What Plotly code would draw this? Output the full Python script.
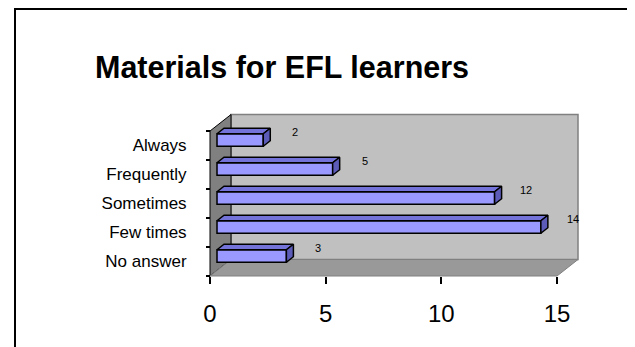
import plotly.graph_objects as go

# ---- data ----
categories = ["No answer", "Few times", "Sometimes", "Frequently", "Always"]
values = [3, 14, 12, 5, 2]
x_ticks = [0, 5, 10, 15]
title_text = "Materials for EFL learners"

# ---- geometry (pixel layout of the figure) ----
W, H = 635, 347
OFF = 8                                   # page body margin compensation
L, R, T, B = 195 - OFF, 600 - OFF, 100 - OFF, 300 - OFF   # plot area in pixels
X0PX, X15PX = 210 - OFF, 557 - OFF        # x=0 and x=15 on screen
UX = (X15PX - X0PX) / 15.0               # px per unit on x
UY = 29.0                                # px per category band
YBOT_PX = 276 - OFF                      # y = -0.5 on screen

xmin = (L - X0PX) / UX
xmax = (R - X0PX) / UX
ymin = -0.5 + (YBOT_PX - B) / UY
ymax = -0.5 + (YBOT_PX - T) / UY

# 3D depth vector (in data units)
DX, DY = 21 / UX, 16.5 / UY
dx, dy = DX / 3, DY / 3                  # bar front-face offset / bar depth
bar_h = 12.5 / UY

def px_x(p):
    return (p - L) / (R - L)

def px_y(p):
    return (B - p) / (B - T)

n = len(categories)
ylo, yhi = -0.5, n - 0.5
xhi = x_ticks[-1]

shapes = [
    # back wall
    dict(type="rect", xref="x", yref="y", x0=DX, x1=xhi + DX, y0=ylo + DY, y1=yhi + DY,
         fillcolor="#C0C0C0", line=dict(color="#808080", width=1.5), layer="below"),
    # side wall
    dict(type="path", xref="x", yref="y",
         path=f"M0,{ylo} L0,{yhi} L{DX},{yhi + DY} L{DX},{ylo + DY} Z",
         fillcolor="#808080", line=dict(color="#000000", width=1), layer="below"),
    # floor
    dict(type="path", xref="x", yref="y",
         path=f"M0,{ylo} L{xhi},{ylo} L{xhi + DX},{ylo + DY} L{DX},{ylo + DY} Z",
         fillcolor="#999999", line=dict(color="#808080", width=1), layer="below"),
    # outer frame
    dict(type="rect", xref="paper", yref="paper",
         x0=px_x(15 - OFF), x1=px_x(W + 10), y0=px_y(9 - OFF), y1=px_y(H + 10),
         line=dict(color="#000000", width=2), fillcolor="rgba(0,0,0,0)"),
]

fig = go.Figure()

ys = list(range(n))
# front faces
fig.add_trace(go.Bar(
    orientation="h", y=[i + dy for i in ys], x=values, base=[dx] * n, width=bar_h,
    marker=dict(color="#9999FF", line=dict(color="#000000", width=1.5)),
    hoverinfo="skip", showlegend=False))

# top and side faces
for i, v in zip(ys, values):
    yc = i + dy
    top, bot = yc + bar_h / 2, yc - bar_h / 2
    x1 = dx + v
    fig.add_trace(go.Scatter(
        x=[dx, x1, x1 + dx, 2 * dx, dx],
        y=[top, top, top + dy, top + dy, top],
        mode="lines", fill="toself", fillcolor="#7373D9",
        line=dict(color="#000000", width=1.5), hoverinfo="skip", showlegend=False))
    fig.add_trace(go.Scatter(
        x=[x1, x1, x1 + dx, x1 + dx, x1],
        y=[bot, top, top + dy, bot + dy, bot],
        mode="lines", fill="toself", fillcolor="#5C5CB8",
        line=dict(color="#000000", width=1.5), hoverinfo="skip", showlegend=False))

annotations = [
    dict(x=v + 1.68, y=i + 0.48, xref="x", yref="y", text=str(v), showarrow=False,
         font=dict(family="Arial, Liberation Sans", size=11, color="#000000"))
    for i, v in zip(ys, values)
]

fig.update_layout(
    width=W, height=H,
    margin=dict(l=L, r=W - R, t=T, b=H - B, pad=0),
    paper_bgcolor="#FFFFFF", plot_bgcolor="#FFFFFF",
    font=dict(family="Arial, Liberation Sans", color="#000000"),
    title=dict(text=title_text, x=(95 - OFF) / W, xanchor="left",
               y=1 - (67 - OFF) / H, yanchor="middle",
               font=dict(family="Arial, Liberation Sans", size=30.5, weight="bold", color="#000000")),
    shapes=shapes,
    annotations=annotations,
    barmode="overlay",
    xaxis=dict(range=[xmin, xmax], tickvals=x_ticks, ticktext=[str(t) for t in x_ticks],
               anchor="free", position=px_y(YBOT_PX), showgrid=False, zeroline=False,
               showline=False, ticks="outside", ticklen=7, tickwidth=2, tickcolor="#000000",
               tickfont=dict(size=24), ticklabelstandoff=9),
    yaxis=dict(range=[ymin, ymax], tickvals=ys, ticktext=categories,
               anchor="free", position=px_x(X0PX), showgrid=False, zeroline=False,
               showline=False, ticks="outside", ticklen=0, tickcolor="#000000",
               tickfont=dict(size=17), ticklabelstandoff=20,
               minor=dict(tickvals=[k - 0.5 for k in range(n + 1)], ticks="outside",
                          ticklen=4, tickwidth=2, tickcolor="#000000", showgrid=False)),
)

fig.write_html("out.html")
